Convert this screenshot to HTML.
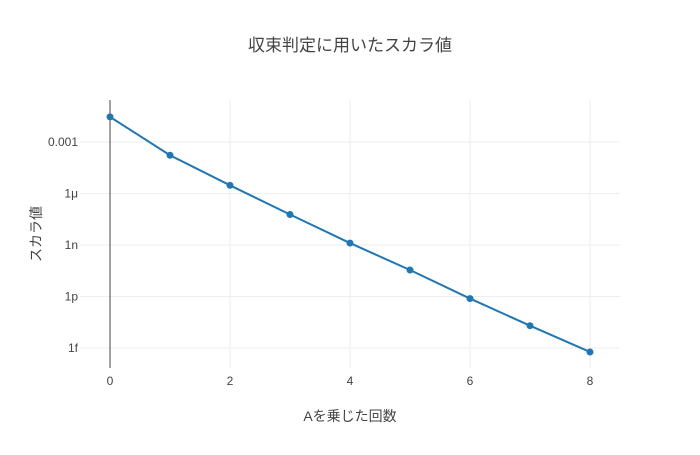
<!DOCTYPE html>
<html><head><meta charset="utf-8"><style>
body{margin:0;background:#fff;}
svg text{font-family:"Liberation Sans","Noto Sans CJK JP",sans-serif;fill:#444;}
</style></head><body>
<svg id="chart" width="700" height="450" xmlns="http://www.w3.org/2000/svg">
<text x="350" y="51" font-size="17" text-anchor="middle">収束判定に用いたスカラ値</text>
<g id="grid"></g><g id="axes"></g><g id="series"></g>
<text x="350" y="421" font-size="14" text-anchor="middle">Aを乗じた回数</text>
<text transform="translate(41,234) rotate(-90)" font-size="14" text-anchor="middle">スカラ値</text>
</svg>
<script>
const xs=[0,1,2,3,4,5,6,7,8];
const ys=[2.9e-2,1.7e-4,3e-6,6e-8,1.3e-9,3.5e-11,7.6e-13,2e-14,5.9e-16];
const xTicks=[0,2,4,6,8];
const yTickVals=[1e-3,1e-6,1e-9,1e-12,1e-15];
const yTickLabels=["0.001","1μ","1n","1p","1f"];
const NS="http://www.w3.org/2000/svg";
const X=v=>110+v*60;
const Y=v=>142-(Math.log10(v)+3)*17.17;
function mk(tag,attrs,parent){const e=document.createElementNS(NS,tag);for(const k in attrs)e.setAttribute(k,attrs[k]);document.getElementById(parent).appendChild(e);return e;}
xTicks.forEach(t=>{
 if(t!==0){const l=mk('line',{x1:X(t),x2:X(t),y1:100,y2:368,stroke:'#eee','stroke-width':1},'grid');
 
 }
 const tx=mk('text',{x:X(t),y:385,'font-size':12,'text-anchor':'middle'},'axes');tx.textContent=t;
 
 
});
yTickVals.forEach((v,i)=>{
 const l=mk('line',{x1:80,x2:620,y1:Y(v),y2:Y(v),stroke:'#eee','stroke-width':1},'grid');
 
 
 const tx=mk('text',{x:78,y:Y(v)+4,'font-size':12,'text-anchor':'end'},'axes');tx.textContent=yTickLabels[i];
 
 
});
const z=mk('line',{x1:X(0),x2:X(0),y1:100,y2:368,stroke:'#444','stroke-width':1},'axes');


const p=mk('polyline',{points:xs.map((x,i)=>X(x)+','+Y(ys[i])).join(' '),fill:'none',stroke:'#1f77b4','stroke-width':2},'series');


xs.forEach((x,i)=>{
 const c=mk('circle',{cx:X(x),cy:Y(ys[i]),r:3.5,fill:'#1f77b4'},'series');
 
 
});
</script>
</body></html>
